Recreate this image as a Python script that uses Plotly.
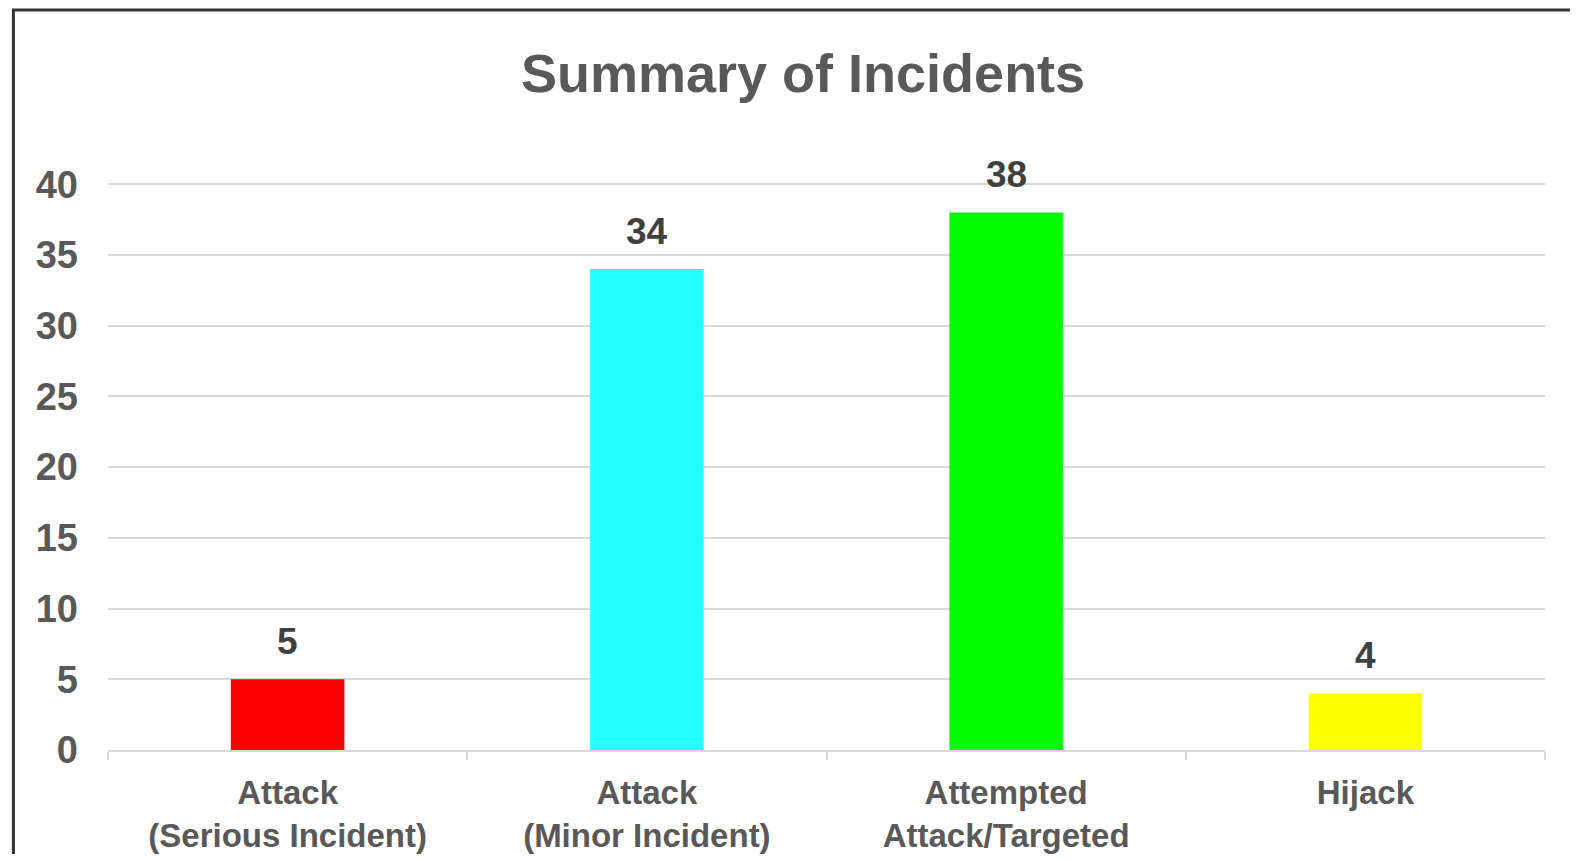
import plotly.graph_objects as go

categories = ["Attack<br>(Serious Incident)", "Attack<br>(Minor Incident)",
              "Attempted<br>Attack/Targeted", "Hijack"]
values = [5, 34, 38, 4]
colors = ["#FF0000", "#26FFFF", "#00FF00", "#FFFF00"]
y_ticks = [0, 5, 10, 15, 20, 25, 30, 35, 40]

FONT = "Liberation Sans, Arial, sans-serif"
S = 0.9937   # screenshot scale
OFF = 8      # default page body margin


def d(r):
    """reference pixel -> figure pixel"""
    return r / S - OFF


W, H = 1572, 846
Y_TOP = 40.3
y0_px, y40_px = d(745), d(183)
px_per_unit = (y0_px - y40_px) / 40.0
ml = d(107)
mt = y40_px - (Y_TOP - 40) * px_per_unit
plot_r, plot_b = d(1535), y0_px
mr, mb = W - plot_r, H - plot_b
pw, ph = W - ml - mr, H - mt - mb

fig = go.Figure(go.Bar(x=categories, y=values, marker=dict(color=colors, line=dict(width=0)),
                       hoverinfo="skip"))

annotations = [dict(x=c, y=v, xref="x", yref="y", text=f"<b>{v}</b>", showarrow=False,
                    yanchor="middle", yshift=38,
                    font=dict(family=FONT, size=37, color="#404040"))
               for c, v in zip(categories, values)]
annotations.append(dict(x=(d(798) - ml) / pw, y=(plot_b - d(72)) / ph,
                        xref="paper", yref="paper",
                        text="<b>Summary of Incidents</b>", showarrow=False,
                        xanchor="center", yanchor="middle",
                        font=dict(family=FONT, size=54, color="#595959")))

fig.update_layout(
    width=W, height=H,
    margin=dict(l=ml, r=mr, t=mt, b=mb, pad=0),
    paper_bgcolor="white", plot_bgcolor="white",
    bargap=0.684,
    showlegend=False,
    annotations=annotations,
    shapes=[dict(type="rect", xref="paper", yref="paper",
                 x0=(d(13) - ml) / pw, x1=1.2, y0=-1, y1=(plot_b - d(10)) / ph,
                 line=dict(color="#333333", width=3), layer="below")],
    xaxis=dict(type="category", tickson="boundaries", ticks="outside", ticklen=8,
               tickcolor="#D9D9D9", tickwidth=2, showline=True, linecolor="#D9D9D9",
               linewidth=2, showgrid=False, ticklabelstandoff=12, automargin=False,
               tickfont=dict(family=FONT, size=33, color="#595959"), fixedrange=True),
    yaxis=dict(range=[0, Y_TOP], tickvals=y_ticks, ticktext=[f"<b>{t}</b>" for t in y_ticks],
               showgrid=True, gridcolor="#D9D9D9", gridwidth=2, zeroline=False,
               showline=False, ticks="", ticklabelstandoff=29, automargin=False,
               tickfont=dict(family=FONT, size=38, color="#595959"), fixedrange=True),
)
fig.update_xaxes(ticktext=[f"<b>{c}</b>" for c in categories], tickvals=categories)

fig.write_html("out.html")
